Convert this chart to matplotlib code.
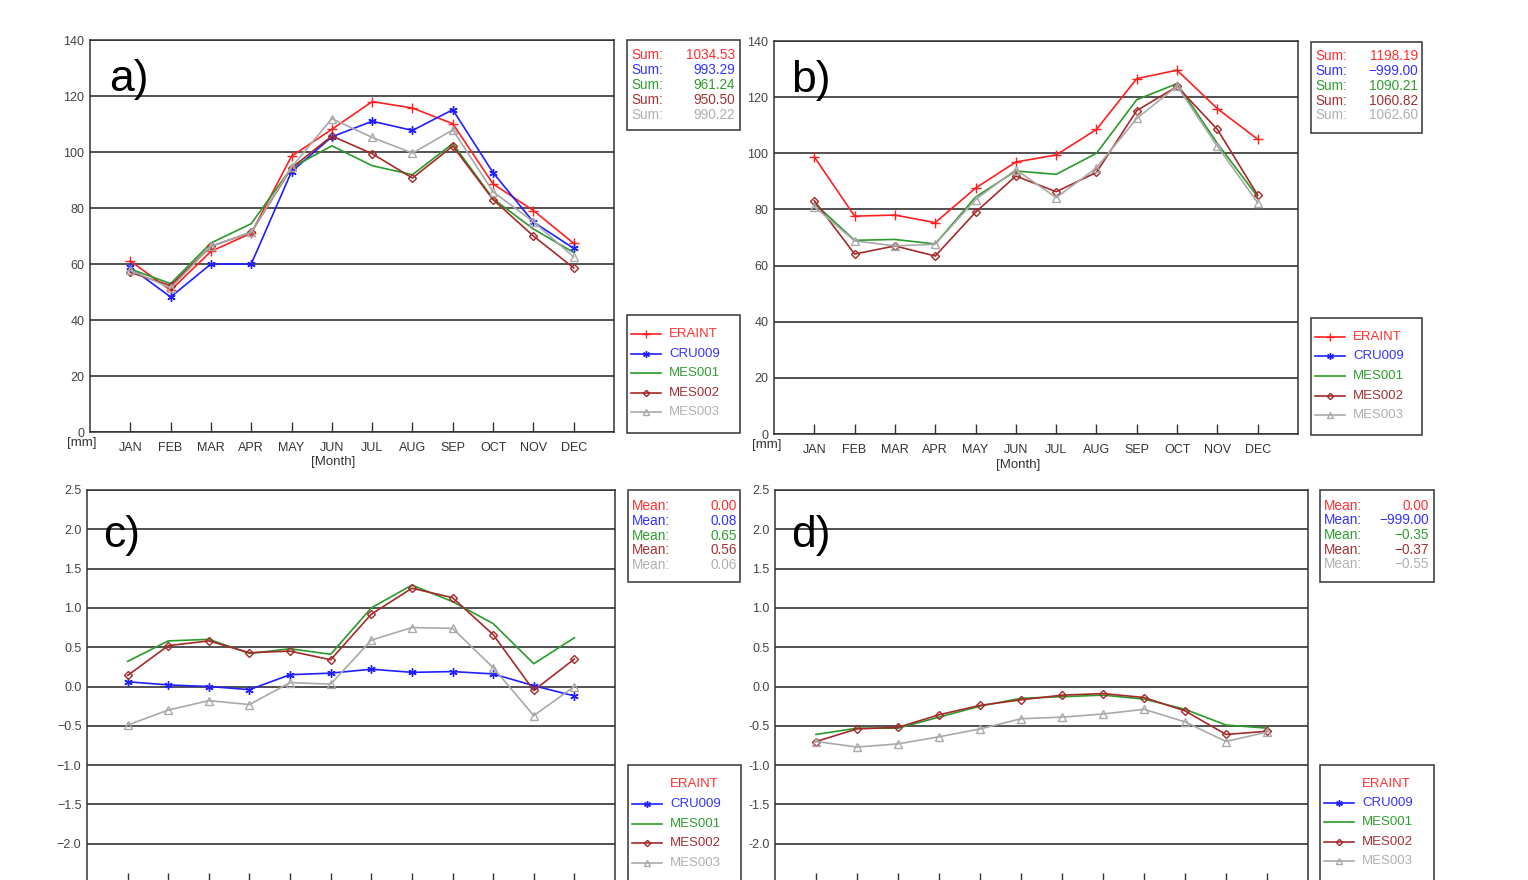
import matplotlib
matplotlib.use('Agg')
import matplotlib.pyplot as plt
from matplotlib.patches import Rectangle
from matplotlib.lines import Line2D

plt.rcParams['font.family'] = ['Liberation Sans', 'DejaVu Sans']

months = ['JAN', 'FEB', 'MAR', 'APR', 'MAY', 'JUN', 'JUL', 'AUG', 'SEP', 'OCT', 'NOV', 'DEC']
series_names = ['ERAINT', 'CRU009', 'MES001', 'MES002', 'MES003']

# Panel a) monthly precipitation [mm]
a_era = [61.1, 50.6, 64.5, 71.0, 98.5, 108.1, 118.0, 115.7, 110.1, 88.6, 79.1, 67.4]
a_cru = [58.8, 48.2, 60.0, 60.0, 93.0, 105.4, 111.0, 107.7, 115.1, 92.6, 75.0, 65.6]
a_m1 = [58.2, 53.0, 67.5, 74.4, 94.4, 102.2, 95.1, 91.9, 103.0, 83.3, 72.5, 64.1]
a_m2 = [57.0, 52.3, 66.3, 71.3, 94.3, 105.7, 99.4, 90.7, 102.1, 83.0, 70.0, 58.6]
a_m3 = [57.8, 51.4, 66.3, 71.3, 94.6, 111.9, 105.2, 99.6, 107.9, 85.8, 75.1, 62.5]
a_stats = ['1034.53', '993.29', '961.24', '950.50', '990.22']

# Panel b) monthly precipitation [mm]
b_era = [98.7, 77.6, 78.0, 75.3, 87.6, 96.9, 99.4, 108.5, 126.6, 129.6, 115.9, 105.0]
b_cru = None
b_m1 = [82.2, 69.0, 69.3, 67.7, 84.4, 93.7, 92.5, 100.0, 119.1, 124.8, 103.5, 84.5]
b_m2 = [83.1, 64.1, 67.0, 63.4, 79.0, 91.9, 86.3, 93.2, 115.2, 123.8, 108.5, 85.1]
b_m3 = [81.0, 68.8, 67.0, 67.6, 83.5, 94.2, 84.2, 94.8, 112.4, 123.9, 102.5, 82.4]
b_stats = ['1198.19', '\u2212999.00', '1090.21', '1060.82', '1062.60']

# Panel c) bias
c_era = None
c_cru = [0.06, 0.02, 0.00, -0.04, 0.15, 0.17, 0.22, 0.18, 0.19, 0.16, 0.01, -0.12]
c_m1 = [0.32, 0.58, 0.60, 0.42, 0.48, 0.41, 1.00, 1.29, 1.08, 0.80, 0.29, 0.62]
c_m2 = [0.14, 0.52, 0.58, 0.43, 0.45, 0.34, 0.92, 1.25, 1.13, 0.66, -0.05, 0.35]
c_m3 = [-0.49, -0.30, -0.18, -0.23, 0.05, 0.03, 0.59, 0.75, 0.74, 0.24, -0.37, 0.00]
c_stats = ['0.00', '0.08', '0.65', '0.56', '0.06']

# Panel d) bias
d_era = None
d_cru = None
d_m1 = [-0.61, -0.53, -0.53, -0.39, -0.25, -0.15, -0.13, -0.11, -0.16, -0.29, -0.49, -0.53]
d_m2 = [-0.70, -0.54, -0.52, -0.36, -0.24, -0.17, -0.11, -0.09, -0.14, -0.31, -0.61, -0.57]
d_m3 = [-0.70, -0.77, -0.73, -0.64, -0.54, -0.41, -0.39, -0.35, -0.29, -0.45, -0.70, -0.58]
d_stats = ['0.00', '\u2212999.00', '\u22120.35', '\u22120.37', '\u22120.55']

yt_top = list(range(0, 141, 20))
yt_bot = [-2.0, -1.5, -1.0, -0.5, 0.0, 0.5, 1.0, 1.5, 2.0, 2.5]

line_cols = {'ERAINT': '#ff1f1f', 'CRU009': '#1f1fff', 'MES001': '#2a9a2a',
             'MES002': '#a52a2a', 'MES003': '#a9a9a9'}
text_cols = {'ERAINT': '#ff3030', 'CRU009': '#3434ff', 'MES001': '#2f9f2f',
             'MES002': '#a33333', 'MES003': '#b0b0b0'}
mk = {'ERAINT': dict(marker='+', ms=7, mew=1.0),
      'CRU009': dict(marker=(6, 2, 0), ms=6, mew=1.0),
      'MES001': dict(marker=None),
      'MES002': dict(marker='D', ms=4, mew=1.0, mfc='none'),
      'MES003': dict(marker='^', ms=6, mew=1.0, mfc='none')}

W, H = 1528, 880
fig = plt.figure(figsize=(W / 100, H / 100), dpi=100)


def fx(x):
    return x / W


def fy(y):
    return 1 - y / H


def add_ax(l, t, r, b):
    return fig.add_axes([fx(l), fy(b), (r - l) / W, (b - t) / H])


def style_ax(ax, yticks, ylabels, ylim, show_months=True):
    ax.set_xlim(0, 13)
    ax.set_ylim(*ylim)
    ax.set_xticks(range(1, 13))
    ax.set_xticklabels(months if show_months else [])
    ax.set_yticks(yticks)
    ax.set_yticklabels(ylabels)
    ax.tick_params(axis='x', direction='in', length=7, width=1.0, pad=7,
                   labelsize=9, labelcolor='#333333', color='#333333')
    ax.tick_params(axis='y', length=0, pad=4, labelsize=9, labelcolor='#444444')
    ax.yaxis.grid(True, color='#222222', lw=1.1)
    ax.set_axisbelow(True)
    for s in ax.spines.values():
        s.set_color('#333333')
        s.set_linewidth(1.1)


def plot_series(ax, data):
    x = list(range(1, 13))
    for name, vals in zip(series_names, data):
        if vals is None:
            continue
        ax.plot(x, vals, color=line_cols[name], lw=1.2, mec=line_cols[name],
                **mk[name], zorder=3)


def stat_box(l, t, r, b, label, stats, rows_y, lx, rx):
    fig.patches.append(Rectangle((fx(l), fy(b)), (r - l) / W, (b - t) / H,
                                 transform=fig.transFigure, fill=False,
                                 ec='#333333', lw=1.1))
    for name, val, yy in zip(series_names, stats, rows_y):
        fig.text(fx(lx), fy(yy), label, color=text_cols[name], fontsize=9.8,
                 ha='left', va='center')
        fig.text(fx(rx), fy(yy), val, color=text_cols[name], fontsize=9.8,
                 ha='right', va='center')


def legend_box(l, t, r, b, rows_y, x0, x1, tx, shown):
    fig.patches.append(Rectangle((fx(l), fy(b)), (r - l) / W, (b - t) / H,
                                 transform=fig.transFigure, fill=False,
                                 ec='#333333', lw=1.1))
    for name, yy, sh in zip(series_names, rows_y, shown):
        if sh:
            fig.add_artist(Line2D([fx(x0), fx(x1)], [fy(yy), fy(yy)],
                                  color=line_cols[name], lw=1.2,
                                  transform=fig.transFigure))
            if mk[name]['marker'] is not None:
                kw = dict(mk[name])
                kw['ms'] = kw['ms'] * 0.8
                fig.add_artist(Line2D([fx((x0 + x1) / 2)], [fy(yy)],
                                      color=line_cols[name], mec=line_cols[name],
                                      lw=0, transform=fig.transFigure, **kw))
        fig.text(fx(tx), fy(yy), name, color=text_cols[name], fontsize=9.5,
                 ha='left', va='center')


# ---- a)
ax_a = add_ax(90, 40, 614, 432)
style_ax(ax_a, yt_top, [str(v) for v in yt_top], (0, 140))
plot_series(ax_a, [a_era, a_cru, a_m1, a_m2, a_m3])
ax_a.text(0.036, 0.9, 'a)', transform=ax_a.transAxes, fontsize=32,
          ha='left', va='center')
fig.text(fx(82), fy(443), '[mm]', fontsize=9.5, color='#333333', ha='center', va='center')
fig.text(fx(333), fy(462), '[Month]', fontsize=9.5, color='#333333', ha='center', va='center')
stat_box(627, 40, 740, 130, 'Sum:', a_stats, [55, 70, 85, 100, 115], 631, 735)
legend_box(627, 315, 740, 433, [334, 354, 373, 393, 412], 631, 661, 669,
           [True, True, True, True, True])

# ---- b)
ax_b = add_ax(774, 41, 1298, 434)
style_ax(ax_b, yt_top, [str(v) for v in yt_top], (0, 140))
plot_series(ax_b, [b_era, b_cru, b_m1, b_m2, b_m3])
ax_b.text(0.032, 0.9, 'b)', transform=ax_b.transAxes, fontsize=32,
          ha='left', va='center')
fig.text(fx(767), fy(445), '[mm]', fontsize=9.5, color='#333333', ha='center', va='center')
fig.text(fx(1018), fy(465), '[Month]', fontsize=9.5, color='#333333', ha='center', va='center')
stat_box(1311, 42, 1422, 133, 'Sum:', b_stats, [56, 71, 86, 101, 115], 1315, 1418)
legend_box(1311, 318, 1422, 435, [337, 356, 376, 396, 415], 1315, 1345, 1353,
           [True, True, True, True, True])

# ---- c)
ax_c = add_ax(87, 490, 615, 883)
style_ax(ax_c, yt_bot, [f'{v:.1f}'.replace('-', '\u2212') for v in yt_bot], (-2.5, 2.5),
         show_months=False)
plot_series(ax_c, [c_era, c_cru, c_m1, c_m2, c_m3])
ax_c.text(0.03, 0.885, 'c)', transform=ax_c.transAxes, fontsize=32,
          ha='left', va='center')
stat_box(628, 490, 740, 582, 'Mean:', c_stats, [506, 521, 536, 550, 565], 632, 737)
legend_box(628, 765, 741, 900, [784, 804, 824, 843, 863], 632, 662, 670,
           [False, True, True, True, True])

# ---- d)
ax_d = add_ax(775, 490, 1308, 883)
style_ax(ax_d, yt_bot, [f'{v:.1f}' for v in yt_bot], (-2.5, 2.5), show_months=False)
plot_series(ax_d, [d_era, d_cru, d_m1, d_m2, d_m3])
ax_d.text(0.031, 0.885, 'd)', transform=ax_d.transAxes, fontsize=32,
          ha='left', va='center')
stat_box(1320, 490, 1434, 582, 'Mean:', d_stats, [506, 520, 535, 550, 564], 1324, 1429)
legend_box(1320, 765, 1434, 900, [784, 803, 822, 842, 861], 1324, 1354, 1362,
           [False, True, True, True, True])

fig.savefig('out.png', dpi=100)
